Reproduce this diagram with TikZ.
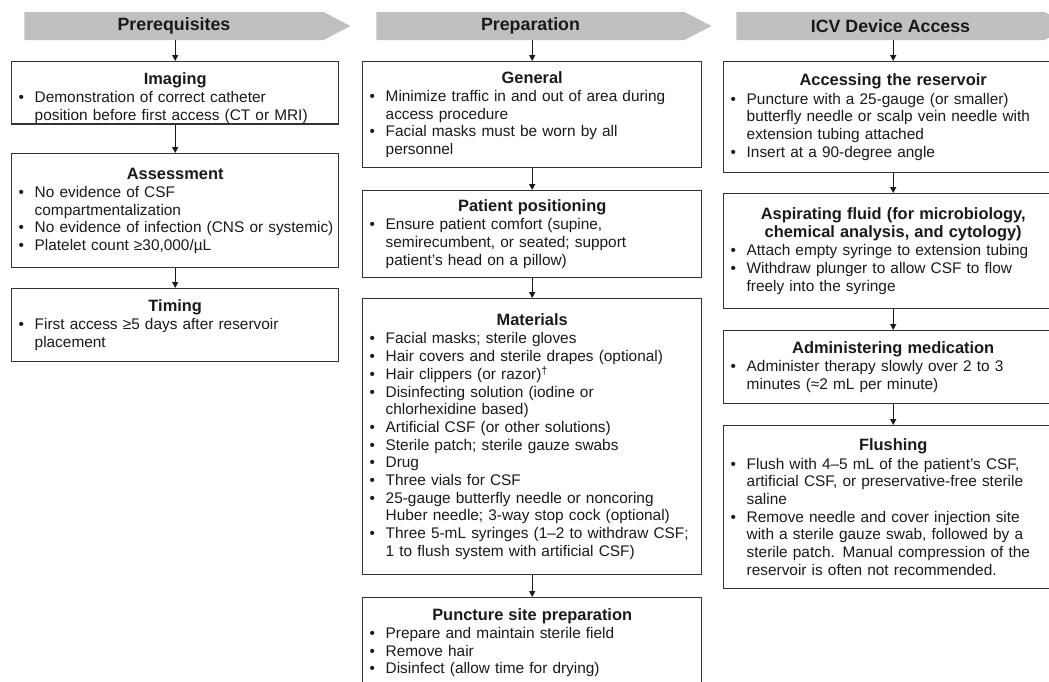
\documentclass[tikz,border=0pt]{standalone}
\usepackage{fontspec}
\setmainfont{Liberation Sans}
\usepackage{tikz}
\usepackage{xcolor}
\usetikzlibrary{shapes.symbols,arrows.meta}
\definecolor{hdrgray}{HTML}{C0C0C0}
\definecolor{boxline}{HTML}{333333}
\definecolor{txt}{HTML}{1A1A1A}
\hyphenpenalty=10000
\exhyphenpenalty=10000
\newcommand{\bl}[1]{\par\noindent\hangindent=20pt\hangafter=1\makebox[20pt][l]{\hspace{4pt}\textbullet}#1\par}
\newcommand{\nl}{\newline}
\newcommand{\ttl}[1]{{\centering\fontsize{16.4}{18}\selectfont\bfseries #1\par}\vskip 0.5pt}

\begin{document}
\begin{tikzpicture}[x=1pt,y=-1pt,>={Triangle[length=6pt,width=6pt]},
  hdr/.style={signal, signal to=east, signal pointer angle=55, fill=hdrgray, inner sep=0pt,
    minimum height=28pt, text=txt, font=\fontsize{17.8}{20}\selectfont\bfseries},
  stepbox/.style={draw=boxline, line width=1.4pt, fill=white, anchor=north west, inner xsep=3pt,
    inner ysep=0pt, align=left, text=txt, font=\fontsize{15.4}{17.7}\selectfont},
  flow/.style={->, line width=1.3pt, draw=txt}]
\clip (0,0) rectangle (1049,681);
\node[hdr, minimum width=326pt] (hpre) at (174,26) {Prerequisites};
\node[hdr, minimum width=335pt] (hprep) at (530.5,26) {Preparation};
\node[hdr, minimum width=335pt] (hicv) at (890.5,26) {ICV Device Access};

\node[stepbox, text width=321pt, minimum height=62pt] (img) at (11,61) {\vskip 5pt\ttl{Imaging}
\bl{Demonstration of correct catheter\nl position before first access (CT or MRI)}};
\node[stepbox, text width=321pt, minimum height=114pt] (assess) at (11,153) {\ttl{Assessment}
\bl{No evidence of CSF\nl compartmentalization}
\bl{\mbox{No evidence of infection (CNS or systemic)}}
\bl{Platelet count ≥30,000/µL}};
\node[stepbox, text width=321pt, minimum height=73pt] (timing) at (11,288) {\ttl{Timing}
\bl{First access ≥5 days after reservoir\nl placement}};

\node[stepbox, text width=333pt, minimum height=106pt] (general) at (362,61) {\ttl{General}
\bl{Minimize traffic in and out of area during\nl access procedure}
\bl{Facial masks must be worn by all\nl personnel}};
\node[stepbox, text width=333pt, minimum height=87pt] (position) at (362,190) {\ttl{Patient positioning}
\bl{Ensure patient comfort (supine,\nl semirecumbent, or seated; support\nl patient’s head on a pillow)}};
\node[stepbox, text width=333pt, minimum height=276pt] (material) at (362,298) {\ttl{Materials}
\bl{Facial masks; sterile gloves}
\bl{Hair covers and sterile drapes (optional)}
\bl{Hair clippers (or razor)\textsuperscript{†}}
\bl{Disinfecting solution (iodine or\nl chlorhexidine based)}
\bl{Artificial CSF (or other solutions)}
\bl{Sterile patch; sterile gauze swabs}
\bl{Drug}
\bl{Three vials for CSF}
\bl{25-gauge butterfly needle or noncoring\nl Huber needle; 3-way stop cock (optional)}
\bl{Three 5-mL syringes (1–2 to withdraw CSF;\nl 1 to flush system with artificial CSF)}};
\node[stepbox, text width=333pt, minimum height=90pt] (puncture) at (362,597) {\ttl{Puncture site preparation}
\bl{Prepare and maintain sterile field}
\bl{Remove hair}
\bl{Disinfect (allow time for drying)}};

\node[stepbox, text width=333pt, minimum height=111pt] (access) at (723,61) {\ttl{Accessing the reservoir}
\bl{Puncture with a 25-gauge (or smaller)\nl butterfly needle or scalp vein needle with\nl extension tubing attached}
\bl{Insert at a 90-degree angle}};
\node[stepbox, text width=333pt, minimum height=115pt] (aspirate) at (723,193) {\ttl{Aspirating fluid (for microbiology,\\chemical analysis, and cytology)}
\bl{Attach empty syringe to extension tubing}
\bl{Withdraw plunger to allow CSF to flow\nl freely into the syringe}};
\node[stepbox, text width=333pt, minimum height=73pt] (admin) at (723,330) {\ttl{Administering medication}
\bl{Administer therapy slowly over 2 to 3\nl minutes (≈2 mL per minute)}};
\node[stepbox, text width=333pt, minimum height=163pt] (flush) at (723,425) {\ttl{Flushing}
\bl{Flush with 4–5 mL of the patient’s CSF,\nl artificial CSF, or preservative-free sterile\nl saline}
\bl{Remove needle and cover injection site\nl with a sterile gauze swab, followed by a\nl sterile patch. Manual compression of the\nl reservoir is often not recommended.}};

\draw[flow] (img.north |- hpre.south) -- (img.north);
\draw[flow] (img.south) -- (assess.north);
\draw[flow] (assess.south) -- (timing.north);
\draw[flow] (general.north |- hprep.south) -- (general.north);
\draw[flow] (general.south) -- (position.north);
\draw[flow] (position.south) -- (material.north);
\draw[flow] (material.south) -- (puncture.north);
\draw[flow] (access.north |- hicv.south) -- (access.north);
\draw[flow] (access.south) -- (aspirate.north);
\draw[flow] (aspirate.south) -- (admin.north);
\draw[flow] (admin.south) -- (flush.north);
\end{tikzpicture}
\end{document}
